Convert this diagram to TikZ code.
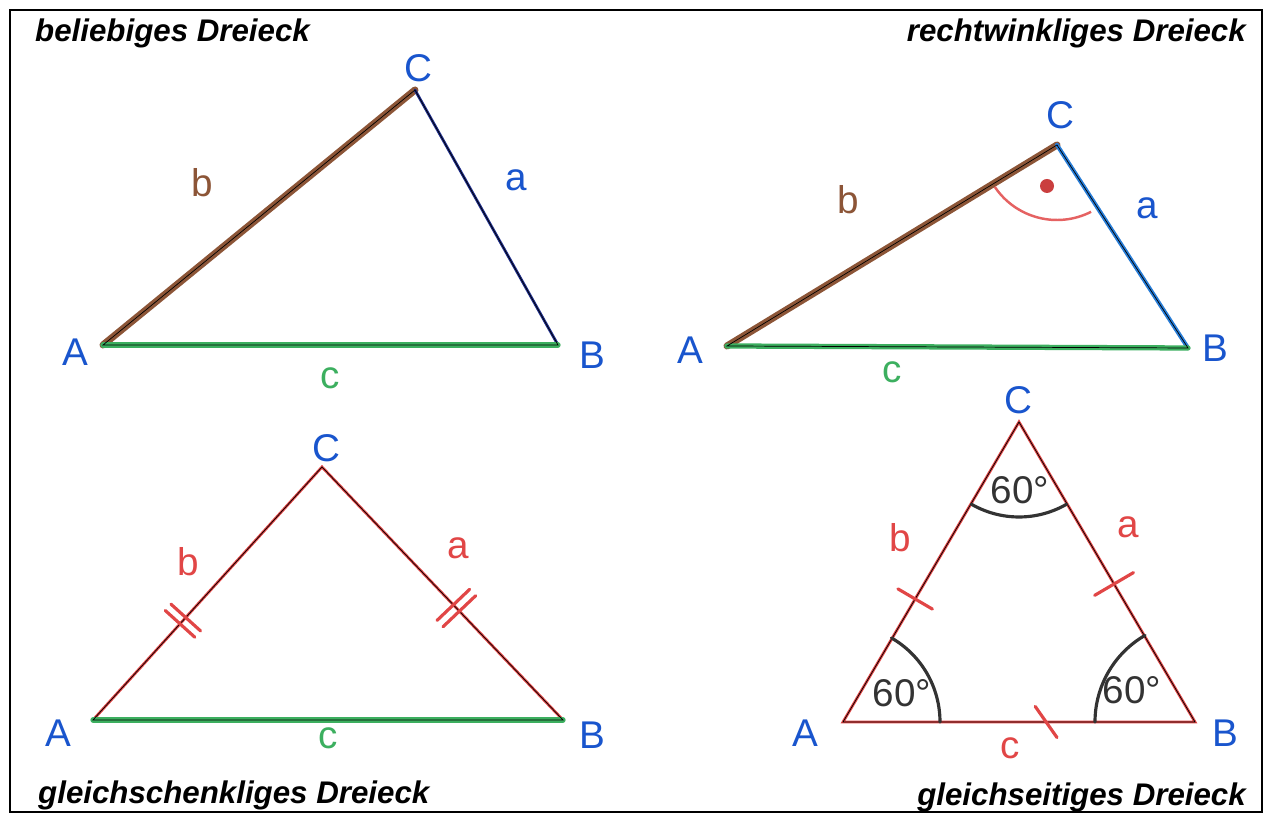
\documentclass[tikz,border=0pt]{standalone}
\usepackage{fontspec}
\setmainfont{Liberation Sans}
\usetikzlibrary{calc}
\definecolor{hblue}{RGB}{25,85,205}
\definecolor{hdblue}{RGB}{30,45,140}
\definecolor{hlblue}{RGB}{40,125,215}
\definecolor{hbrown}{RGB}{140,85,55}
\definecolor{hgreen}{RGB}{60,175,95}
\definecolor{hred}{RGB}{225,70,70}

\begin{document}
\begin{tikzpicture}[x=0.02cm,y=0.02cm,font=\fontsize{22}{24}\selectfont,
  titel/.style={font=\fontsize{17.8}{20}\selectfont\bfseries\itshape},
  ecke/.style={text=hblue},
  kante/.style={line width=#1,line cap=round},
  strich/.style={hred,line width=1.8pt,line cap=round},
  winkel/.style={black!80,line width=1.8pt,line cap=round}]
\useasboundingbox (0,0) rectangle (1269,817);
\draw[line width=1.2pt] (10,5) rectangle (1262,807);
% beliebiges Dreieck
\coordinate (A1) at (103,472); \coordinate (B1) at (558,472); \coordinate (C1) at (415,727);
\draw[kante=4pt,hbrown] (A1) -- (C1);
\draw[kante=1.6pt,hdblue] (C1) -- (B1);
\draw[kante=3pt,hgreen] (A1) -- (B1);
\draw[thin] (A1) -- (B1) -- (C1) -- cycle;
\node[ecke] (lA1) at (75,465) {A};
\node[ecke] (lB1) at (592,462) {B};
\node[ecke] (lC1) at (418,749) {C};
\node[text=hbrown] (lb1) at (202,634) {b};
\node[text=hblue] (la1) at (516,637) {a};
\node[text=hgreen] (lc1) at (330,439) {c};
\node[titel,anchor=west] (t1) at (29,784) {beliebiges Dreieck};
% rechtwinkliges Dreieck
\coordinate (A2) at (727,471); \coordinate (B2) at (1188,469); \coordinate (C2) at (1057,672);
\draw[kante=4pt,hbrown] (A2) -- (C2);
\draw[kante=2.4pt,hlblue] (C2) -- (B2);
\draw[kante=3pt,hgreen] (A2) -- (B2);
\draw[thin] (A2) -- (B2) -- (C2) -- cycle;
\draw[hred!85,line width=1.4pt] ([shift={(214:75)}]C2) arc[start angle=214,end angle=297,radius=75];
\fill[hred!90!black] (1047,631) circle (7);
\node[ecke] (lA2) at (690,467) {A};
\node[ecke] (lB2) at (1215,469) {B};
\node[ecke] (lC2) at (1060,702) {C};
\node[text=hbrown] (lb2) at (848,617) {b};
\node[text=hblue] (la2) at (1147,609) {a};
\node[text=hgreen] (lc2) at (892,445) {c};
\node[titel,anchor=east] (t2) at (1252,784) {rechtwinkliges Dreieck};
% gleichschenkliges Dreieck
\coordinate (A3) at (93,97); \coordinate (B3) at (563,97); \coordinate (C3) at (322,350);
\draw[kante=1.6pt,hred] (A3) -- (C3) -- (B3);
\draw[kante=3pt,hgreen] (A3) -- (B3);
\draw[thin] (A3) -- (B3) -- (C3) -- cycle;
\foreach \t in {0.38,0.405}{
  \coordinate (m) at ($(A3)!\t!(C3)$);
  \draw[strich] ($(m)!0.4cm!90:(C3)$) -- ($(m)!0.4cm!-90:(C3)$);}
\foreach \t in {0.545,0.57}{
  \coordinate (m) at ($(C3)!\t!(B3)$);
  \draw[strich] ($(m)!0.45cm!90:(B3)$) -- ($(m)!0.45cm!-90:(B3)$);}
\node[ecke] (lA3) at (58,84) {A};
\node[ecke] (lB3) at (592,82) {B};
\node[ecke] (lC3) at (326,369) {C};
\node[text=hred] (lb3) at (188,255) {b};
\node[text=hred] (la3) at (458,269) {a};
\node[text=hgreen] (lc3) at (328,79) {c};
\node[titel,anchor=west] (t3) at (32,22) {gleichschenkliges Dreieck};
% gleichseitiges Dreieck
\coordinate (A4) at (843,95); \coordinate (B4) at (1195,95); \coordinate (C4) at (1019,395);
\draw[kante=1.6pt,hred] (A4) -- (B4) -- (C4) -- cycle;
\draw[thin] (A4) -- (B4) -- (C4) -- cycle;
\coordinate (m) at ($(A4)!0.41!(C4)$);
\draw[strich] ($(m)!0.4cm!90:(C4)$) -- ($(m)!0.4cm!-90:(C4)$);
\coordinate (m) at ($(C4)!0.54!(B4)$);
\draw[strich] ($(m)!0.45cm!90:(B4)$) -- ($(m)!0.45cm!-90:(B4)$);
\coordinate (m) at ($(A4)!0.577!(B4)$);
\draw[strich] ($(m)!0.38cm!125:(B4)$) -- ($(m)!0.38cm!-55:(B4)$);
\draw[winkel] ([shift={(0:97)}]A4) arc[start angle=0,end angle=60,radius=97];
\draw[winkel] ([shift={(120:100)}]B4) arc[start angle=120,end angle=180,radius=100];
\draw[winkel] ([shift={(240:95)}]C4) arc[start angle=240,end angle=300,radius=95];
\node[text=black!80] (wA4) at (902,124) {60°};
\node[text=black!80] (wB4) at (1132,127) {60°};
\node[text=black!80] (wC4) at (1020,327) {60°};
\node[ecke] (lA4) at (805,84) {A};
\node[ecke] (lB4) at (1225,84) {B};
\node[ecke] (lC4) at (1018,417) {C};
\node[text=hred] (lb4) at (900,279) {b};
\node[text=hred] (la4) at (1128,290) {a};
\node[text=hred] (lc4) at (1010,69) {c};
\node[titel,anchor=east] (t4) at (1252,20) {gleichseitiges Dreieck};
\end{tikzpicture}
\end{document}
